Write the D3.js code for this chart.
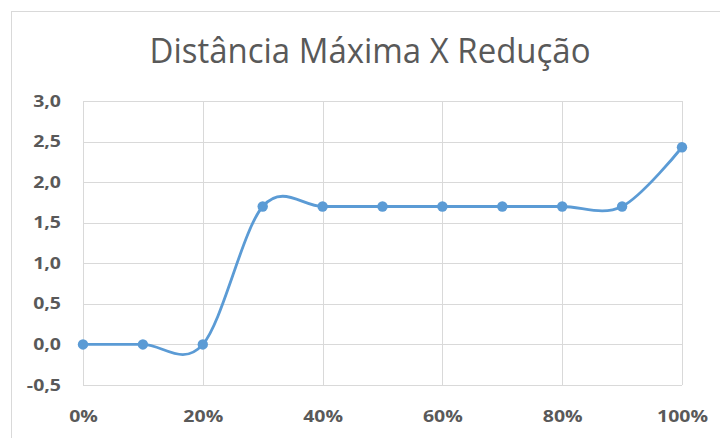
<!DOCTYPE html>
<html>
<head>
<meta charset="utf-8">
<script src="https://cdn.jsdelivr.net/npm/d3@7/dist/d3.min.js"></script>
<style>
  html, body { margin: 0; padding: 0; background: #fff; }
  svg { display: block; }
</style>
</head>
<body>
<svg id="chart" width="720" height="438"></svg>
<script>
// Reduction steps (fraction) and the maximum distance reached at each one
const reducao = [0, 0.1, 0.2, 0.3, 0.4, 0.5, 0.6, 0.7, 0.8, 0.9, 1.0];
const distancia = [0, 0, 0, 1.7, 1.7, 1.7, 1.7, 1.7, 1.7, 1.7, 2.43];
const yTicks = [-0.5, 0, 0.5, 1.0, 1.5, 2.0, 2.5, 3.0];
const xTicks = [0, 0.2, 0.4, 0.6, 0.8, 1.0];
const titulo = "Distância Máxima X Redução";

const svg = d3.select("#chart");
const W = 720, H = 438;
const plot = { left: 83, right: 682, top: 101, bottom: 385 };
const labelColor = "#595959";
const gridColor = "#d9d9d9";
const lineColor = "#5b9bd5";
const stretch = 1.22; // tick labels use a widened face

svg.append("rect").attr("width", W).attr("height", H).attr("fill", "#fff");

// chart frame
svg.append("rect")
  .attr("x", 11.5).attr("y", 11.5)
  .attr("width", W).attr("height", H)
  .attr("fill", "none").attr("stroke", gridColor).attr("stroke-width", 1);

const x = d3.scaleLinear().domain([0, 1]).range([plot.left, plot.right]);
const y = d3.scaleLinear().domain([-0.5, 3.0]).range([plot.bottom, plot.top]);

const fmtY = d => d3.format(".1f")(d).replace(".", ",").replace("\u2212", "-");
const fmtX = d => d3.format(".0%")(d);

// horizontal gridlines + y labels
const yAxis = d3.axisLeft(y).tickValues(yTicks).tickFormat(fmtY)
  .tickSize(-(plot.right - plot.left)).tickPadding(22);
const gy = svg.append("g").attr("transform", `translate(${plot.left},0)`).call(yAxis);
gy.select(".domain").remove();
gy.selectAll(".tick line").attr("stroke", gridColor).attr("stroke-width", 1)
  .attr("shape-rendering", "crispEdges");

// vertical gridlines + x labels
const xAxis = d3.axisBottom(x).tickValues(xTicks).tickFormat(fmtX)
  .tickSize(-(plot.bottom - plot.top)).tickPadding(26);
const gx = svg.append("g").attr("transform", `translate(0,${plot.bottom})`).call(xAxis);
gx.select(".domain").remove();
gx.selectAll(".tick line").attr("stroke", gridColor).attr("stroke-width", 1)
  .attr("shape-rendering", "crispEdges");

// left edge of plot area
svg.append("line").attr("x1", plot.left).attr("x2", plot.left)
  .attr("y1", plot.top).attr("y2", plot.bottom)
  .attr("stroke", gridColor).attr("shape-rendering", "crispEdges");

svg.selectAll(".tick text")
  .attr("fill", labelColor)
  .style("font-family", "'Open Sans', sans-serif")
  .style("font-size", "16px")
  .style("font-weight", "700");

// widen tick labels around their anchor
gy.selectAll(".tick text").each(function () {
  const t = d3.select(this);
  const tx = +t.attr("x");
  t.attr("transform", `translate(${tx},0) scale(${stretch},1) translate(${-tx},0)`);
});
gx.selectAll(".tick text").attr("transform", `scale(${stretch},1)`);

// smoothed series line
const line = d3.line()
  .x((d, i) => x(reducao[i]))
  .y(d => y(d))
  .curve(d3.curveCardinal.tension(0));

svg.append("path")
  .datum(distancia)
  .attr("d", line)
  .attr("fill", "none")
  .attr("stroke", lineColor)
  .attr("stroke-width", 2.8)
  .attr("stroke-linecap", "round");

svg.selectAll("circle.pt")
  .data(distancia)
  .join("circle")
  .attr("class", "pt")
  .attr("cx", (d, i) => x(reducao[i]))
  .attr("cy", d => y(d))
  .attr("r", 5.2)
  .attr("fill", lineColor);

// title
svg.append("text")
  .attr("x", 370).attr("y", 62.5)
  .attr("text-anchor", "middle")
  .attr("fill", labelColor)
  .attr("textLength", 441)
  .attr("lengthAdjust", "spacingAndGlyphs")
  .style("font-family", "'Open Sans', sans-serif")
  .style("font-size", "34px")
  .text(titulo);
</script>
</body>
</html>
